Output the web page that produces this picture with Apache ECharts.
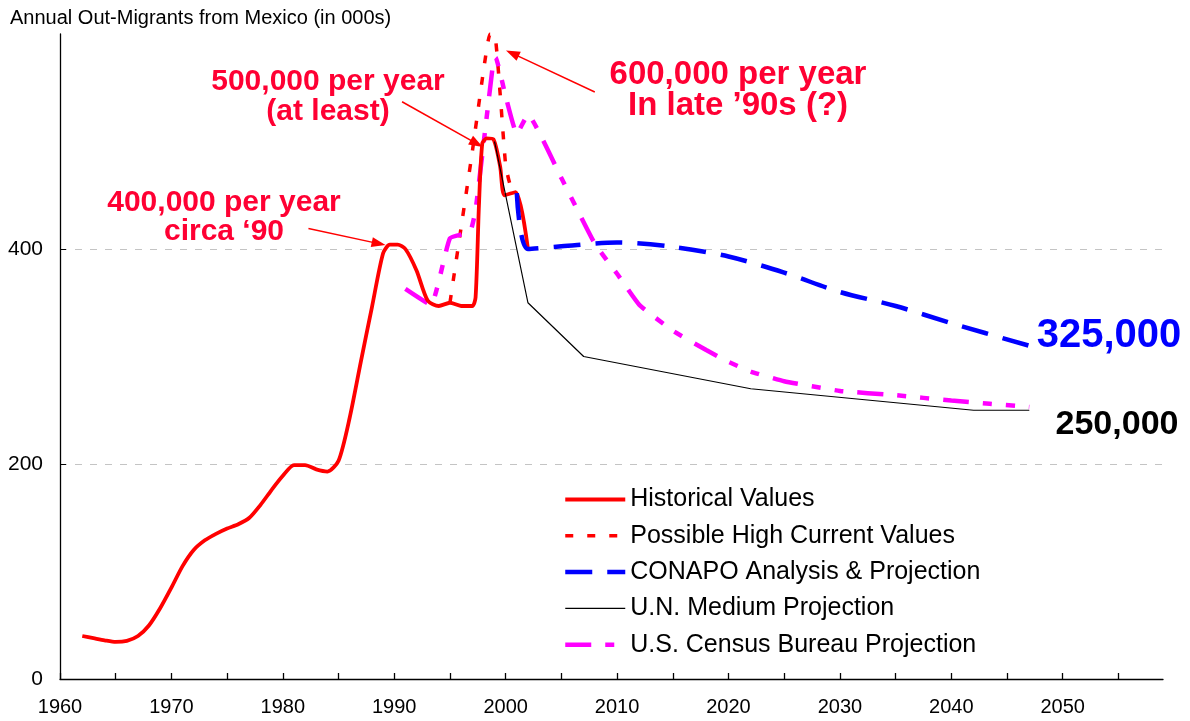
<!DOCTYPE html>
<html>
<head>
<meta charset="utf-8">
<title>Annual Out-Migrants from Mexico</title>
<script src="https://cdn.jsdelivr.net/npm/echarts@6/dist/echarts.min.js"></script>
<style>
  html, body { margin: 0; padding: 0; background: #fff; }
  #chart { width: 1190px; height: 721px; }
</style>
</head>
<body>
<div id="chart"></div>
<script>
// values in thousands of migrants per year
var historicalYears = [1962, 1963, 1964, 1965, 1966, 1967, 1968, 1969, 1970, 1971, 1972, 1973, 1974, 1975,
    1976, 1977, 1978, 1979, 1980, 1981, 1982, 1983, 1984, 1985, 1986, 1987, 1988, 1989, 1989.6, 1990.3,
    1991, 1992, 1993, 1994, 1995, 1996, 1997, 1997.3, 1997.6, 1997.9, 1998.3, 1998.9, 1999.5, 1999.9,
    2000.9, 2002];
var historicalValues = [40, 38, 36, 34.5, 35.5, 40, 50, 66, 85, 105, 120, 129, 135, 140,
    144, 150, 162, 176, 189, 199, 199, 195, 193, 203, 243, 295, 346, 396, 404, 404,
    400, 380, 352, 347, 350, 347, 347, 355, 440, 498, 503, 502, 477, 450,
    453, 400];

var highYears = [1995, 1996, 1997, 1998, 1998.6, 1999, 1999.5, 2000, 2000.4, 2001];
var highValues = [350, 420, 490, 565, 600, 600, 545, 478, 460, 452];

var conapoYears = [2001, 2002, 2005, 2010, 2015, 2020, 2025, 2030, 2035, 2040, 2047];
var conapoValues = [452, 400, 402.5, 406, 402, 393, 378, 360, 347, 331, 310];

var unYears = [1999, 2002, 2007, 2022, 2042, 2047];
var unValues = [500, 350, 300, 270, 250, 250];

var censusYears = [1991, 1993.3, 1995, 1996.8, 1997.3, 1998.9, 1999.1, 2000, 2001, 2002, 2005, 2008,
    2010, 2012, 2015, 2018, 2020, 2022, 2025, 2030, 2035, 2040, 2047];
var censusValues = [363, 348, 410, 416, 436, 575, 578, 542, 507, 525, 466, 405,
    377, 348, 324, 306, 295, 286, 277, 268, 264, 259, 253];

var xTicks = [1960, 1965, 1970, 1975, 1980, 1985, 1990, 1995, 2000, 2005, 2010, 2015, 2020, 2025,
    2030, 2035, 2040, 2045, 2050, 2055];
var xLabels = [1960, 1970, 1980, 1990, 2000, 2010, 2020, 2030, 2040, 2050];
var yLabels = [0, 200, 400];
var yTicks = [200, 400];

// annotation arrows, [year, value] from -> to
var arrowFrom = [[1982.3, 419], [1990.7, 537], [2008.0, 546]];
var arrowTo = [[1988.6, 405], [1997.4, 498], [2000.6, 582]];

var FONT = '"Liberation Sans", Arial, sans-serif';
var RED_TEXT = '#ff0033';

function pairs(xs, ys) {
    return xs.map(function (x, i) { return [x, ys[i]]; });
}

var arrows = arrowFrom.map(function (p, i) {
    return [{ coord: p }, { coord: arrowTo[i] }];
});

var chart = echarts.init(document.getElementById('chart'));

var option = {
    animation: false,
    backgroundColor: '#fff',
    textStyle: { fontFamily: FONT },
    grid: { left: 60, right: 27, top: 34, bottom: 42 },
    xAxis: {
        type: 'value',
        min: 1960,
        max: 2059,
        interval: 5,
        axisLine: { lineStyle: { color: '#000', width: 1.3 } },
        axisTick: { inside: true, length: 6, customValues: xTicks, lineStyle: { color: '#000', width: 1.3 } },
        axisLabel: {
            customValues: xLabels, margin: 18, fontSize: 20, color: '#000', fontFamily: FONT,
            formatter: function (v) { return String(v); }
        },
        splitLine: { show: false }
    },
    yAxis: {
        type: 'value',
        min: 0,
        max: 600,
        interval: 200,
        axisLine: { show: true, lineStyle: { color: '#000', width: 1.3 } },
        axisTick: { show: true, inside: true, length: 6, customValues: yTicks, lineStyle: { color: '#000' } },
        axisLabel: { customValues: yLabels, margin: 17, fontSize: 21, color: '#000', fontFamily: FONT },
        splitLine: { show: true, lineStyle: { color: '#c4c4c4', type: [7, 8], width: 1 } }
    },
    legend: {
        orient: 'vertical',
        left: 558,
        top: 482,
        itemWidth: 60,
        itemHeight: 14,
        itemGap: 11.3,
        data: ['Historical Values', 'Possible High Current Values', 'CONAPO Analysis & Projection',
            'U.N. Medium Projection', 'U.S. Census Bureau Projection'],
        itemStyle: { opacity: 0 },
        lineStyle: { width: 'inherit' },
        textStyle: { fontSize: 25, color: '#000', fontFamily: FONT }
    },
    graphic: [
        { type: 'text', x: 10, y: 18, silent: true,
          style: { text: 'Annual Out-Migrants from Mexico (in 000s)', font: '20px ' + FONT, fill: '#000',
                   align: 'left', verticalAlign: 'middle', textAlign: 'left', textVerticalAlign: 'middle' } },
        { type: 'text', x: 328, y: 97, silent: true,
          style: { text: '500,000 per year\n(at least)', font: 'bold 30px ' + FONT, fill: RED_TEXT, lineHeight: 30,
                   align: 'center', verticalAlign: 'middle', textAlign: 'center', textVerticalAlign: 'middle' } },
        { type: 'text', x: 738, y: 90, silent: true,
          style: { text: '600,000 per year\nIn late \u201990s (?)', font: 'bold 33px ' + FONT, fill: RED_TEXT, lineHeight: 31,
                   align: 'center', verticalAlign: 'middle', textAlign: 'center', textVerticalAlign: 'middle' } },
        { type: 'text', x: 224, y: 217, silent: true,
          style: { text: '400,000 per year\ncirca \u201890', font: 'bold 30px ' + FONT, fill: RED_TEXT, lineHeight: 29,
                   align: 'center', verticalAlign: 'middle', textAlign: 'center', textVerticalAlign: 'middle' } },
        { type: 'text', x: 1109, y: 336, silent: true,
          style: { text: '325,000', font: 'bold 40px ' + FONT, fill: '#0000ff',
                   align: 'center', verticalAlign: 'middle', textAlign: 'center', textVerticalAlign: 'middle' } },
        { type: 'text', x: 1117, y: 425, silent: true,
          style: { text: '250,000', font: 'bold 34px ' + FONT, fill: '#000',
                   align: 'center', verticalAlign: 'middle', textAlign: 'center', textVerticalAlign: 'middle' } }
    ],
    series: [
        {
            name: 'Possible High Current Values',
            type: 'line',
            data: pairs(highYears, highValues),
            showSymbol: false,
            symbol: 'none',
            smooth: 0.15,
            color: '#ff0000',
            lineStyle: { color: '#ff0000', width: 3.5, type: [8, 14] },
            z: 2
        },
        {
            name: 'U.S. Census Bureau Projection',
            type: 'line',
            data: pairs(censusYears, censusValues),
            symbol: 'none',
            smooth: 0.12,
            color: '#ff00ff',
            lineStyle: { color: '#ff00ff', width: 4.5, type: [26, 14, 9, 14, 9, 14] },
            z: 3
        },
        {
            name: 'Historical Values',
            type: 'line',
            data: pairs(historicalYears, historicalValues),
            symbol: 'none',
            smooth: 0.25,
            color: '#ff0000',
            lineStyle: { color: '#ff0000', width: 3.8 },
            z: 4,
            markLine: {
                silent: true,
                symbol: ['none', 'triangle'],
                symbolSize: [10, 14],
                label: { show: false },
                lineStyle: { color: '#ff0000', width: 1.5, type: 'solid' },
                emphasis: { disabled: true },
                data: arrows
            }
        },
        {
            name: 'U.N. Medium Projection',
            type: 'line',
            data: pairs(unYears, unValues),
            symbol: 'none',
            color: '#000',
            lineStyle: { color: '#000', width: 1.2 },
            z: 5
        },
        {
            name: 'CONAPO Analysis & Projection',
            type: 'line',
            data: pairs(conapoYears, conapoValues),
            symbol: 'none',
            smooth: 0.3,
            color: '#0000ff',
            lineStyle: { color: '#0000ff', width: 4.5, type: [27, 15] },
            z: 6
        }
    ]
};

chart.setOption(option);
</script>
</body>
</html>
